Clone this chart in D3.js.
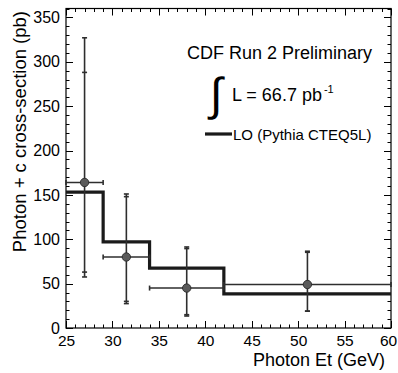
<!DOCTYPE html>
<html>
<head>
<meta charset="utf-8">
<script src="https://cdn.jsdelivr.net/npm/d3@7"></script>
<style>
  html, body { margin: 0; padding: 0; background: #fff; }
  svg { display: block; font-family: "Liberation Sans", Arial, Helvetica, sans-serif; }
</style>
</head>
<body>
<svg id="chart" width="398" height="373"></svg>
<script>
// ---- data ----
const xCenters = [27, 31.5, 38, 51];
const xLow = [25, 29, 34, 42];
const xHigh = [29, 34, 42, 60];
const yValues = [164, 80, 45, 49];
const statLow = [63, 30, 15, 19];
const statHigh = [288, 148, 89.5, 85.3];
const totLow = [57.5, 27.5, 13.5, 19];
const totHigh = [327, 151, 91.3, 86.5];
const loEdges = [25, 29, 34, 42, 60];
const loValues = [153, 97, 67.5, 38.5];
const xTicks = [25, 30, 35, 40, 45, 50, 55, 60];
const yTicks = [0, 50, 100, 150, 200, 250, 300, 350];

const svg = d3.select("#chart");
const m = { l: 66, r: 391, t: 8.5, b: 328 };
const x = d3.scaleLinear().domain([25, 60]).range([m.l, m.r]);
const y = d3.scaleLinear().domain([0, 360]).range([m.b, m.t]);

// ticks (inward, all four sides)
const g = svg.append("g").attr("stroke", "#000").attr("stroke-width", 1);
const minorX = d3.range(25, 60.01, 1);
const minorY = d3.range(0, 360.01, 10);
minorX.forEach(v => {
  const major = Math.abs(v % 5) < 1e-6;
  const L = major ? 7 : 3.5;
  const px = Math.round(x(v)) + 0.5;
  g.append("line").attr("x1", px).attr("x2", px).attr("y1", m.b).attr("y2", m.b - L);
  g.append("line").attr("x1", px).attr("x2", px).attr("y1", m.t).attr("y2", m.t + L);
});
minorY.forEach(v => {
  const major = Math.abs(v % 50) < 1e-6;
  const L = major ? 7 : 3.5;
  const py = Math.round(y(v)) + 0.5;
  g.append("line").attr("y1", py).attr("y2", py).attr("x1", m.l).attr("x2", m.l + L);
  g.append("line").attr("y1", py).attr("y2", py).attr("x1", m.r).attr("x2", m.r - L);
});

// frame
svg.append("rect").attr("x", m.l).attr("y", m.t).attr("width", m.r - m.l).attr("height", m.b - m.t)
  .attr("fill", "none").attr("stroke", "#000").attr("stroke-width", 1.2);

// tick labels via axis generators (domain & tick lines hidden)
const xAxis = d3.axisBottom(x).tickValues(xTicks).tickSize(0).tickPadding(7);
const xg = svg.append("g").attr("transform", `translate(0,${m.b})`).call(xAxis);
xg.select(".domain").remove();
xg.selectAll("text").attr("font-size", 15.5).attr("font-family", "Liberation Sans, Arial, sans-serif").attr("fill", "#000");
xg.selectAll(".tick").filter(d => d === 60).select("text").attr("dx", -3);

const yAxis = d3.axisLeft(y).tickValues(yTicks).tickSize(0).tickPadding(6);
const yg = svg.append("g").attr("transform", `translate(${m.l},0)`).call(yAxis);
yg.select(".domain").remove();
yg.selectAll("text").attr("font-size", 16).attr("font-family", "Liberation Sans, Arial, sans-serif").attr("fill", "#000");

// axis titles
svg.append("text").attr("x", 385).attr("y", 366).attr("text-anchor", "end")
  .attr("font-size", 18).text("Photon Et (GeV)");
svg.append("text").attr("transform", "translate(26,11) rotate(-90)").attr("text-anchor", "end")
  .attr("font-size", 18.5).text("Photon + c cross-section (pb)");

// LO histogram
const loPts = loValues.map((v, i) => [loEdges[i], v]);
loPts.push([loEdges[loEdges.length - 1], loValues[loValues.length - 1]]);
const stepLine = d3.line().x(d => x(d[0])).y(d => y(d[1])).curve(d3.curveStepAfter);
svg.append("path").attr("d", stepLine(loPts)).attr("fill", "none")
  .attr("stroke", "#1a1a1a").attr("stroke-width", 3.2);

// data error bars
const eb = svg.append("g").attr("stroke", "#2e2e2e").attr("stroke-width", 1.6);
const cap = 2.5;
xCenters.forEach((xc, i) => {
  const cx = x(xc);
  eb.append("line").attr("x1", x(xLow[i])).attr("x2", x(xHigh[i])).attr("y1", y(yValues[i])).attr("y2", y(yValues[i]));
  eb.append("line").attr("x1", x(xLow[i])).attr("x2", x(xLow[i])).attr("y1", y(yValues[i]) - cap).attr("y2", y(yValues[i]) + cap);
  eb.append("line").attr("x1", x(xHigh[i])).attr("x2", x(xHigh[i])).attr("y1", y(yValues[i]) - cap).attr("y2", y(yValues[i]) + cap);
  eb.append("line").attr("x1", cx).attr("x2", cx).attr("y1", y(totLow[i])).attr("y2", y(totHigh[i]));
  [totLow[i], totHigh[i], statLow[i], statHigh[i]].forEach(v => {
    eb.append("line").attr("x1", cx - cap).attr("x2", cx + cap).attr("y1", y(v)).attr("y2", y(v));
  });
});

// markers
svg.append("g").selectAll("circle").data(xCenters).join("circle")
  .attr("cx", d => x(d)).attr("cy", (d, i) => y(yValues[i])).attr("r", 4.2)
  .attr("fill", "#5a5a5a").attr("stroke", "#222").attr("stroke-width", 0.8);

// annotations
svg.append("text").attr("x", 187).attr("y", 59).attr("font-size", 18).text("CDF Run 2 Preliminary");
svg.append("text").attr("x", 210).attr("y", 110).attr("font-size", 46)
  .attr("font-family", "DejaVu Sans, sans-serif").attr("font-weight", 200).text("∫");
const lum = svg.append("text").attr("x", 232).attr("y", 101).attr("font-size", 18);
lum.append("tspan").text("L = 66.7 pb");
lum.append("tspan").attr("dx", 2).attr("dy", -8).attr("font-size", 11).text("-1");

// legend
svg.append("line").attr("x1", 205).attr("x2", 232).attr("y1", 134).attr("y2", 134)
  .attr("stroke", "#1a1a1a").attr("stroke-width", 3.2);
svg.append("text").attr("x", 233).attr("y", 139.5).attr("font-size", 15).text("LO (Pythia CTEQ5L)");
</script>
</body>
</html>
